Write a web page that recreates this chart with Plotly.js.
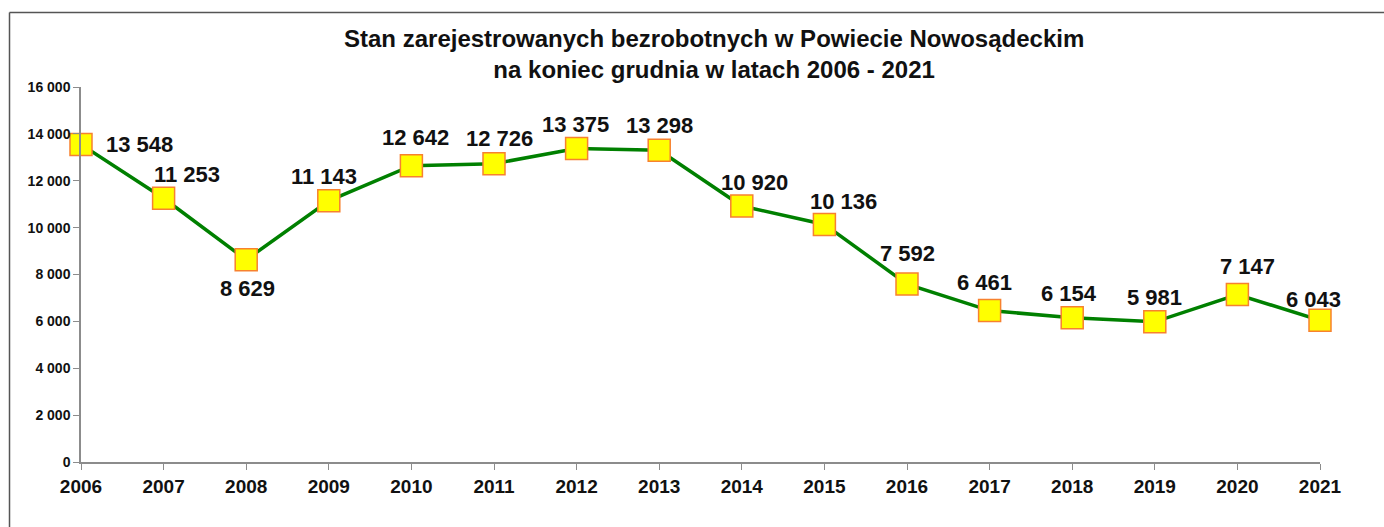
<!DOCTYPE html>
<html>
<head>
<meta charset="utf-8">
<script src="https://cdn.plot.ly/plotly-3.0.1.min.js"></script>
<style>
  html, body { margin: 0; padding: 0; background: #ffffff; }
  #chart { width: 1384px; height: 527px; }
</style>
</head>
<body>
<div id="chart"></div>
<script>
// ---- data ----
const years = ['2006','2007','2008','2009','2010','2011','2012','2013','2014','2015','2016','2017','2018','2019','2020','2021'];
const unemployed = [13548, 11253, 8629, 11143, 12642, 12726, 13375, 13298, 10920, 10136, 7592, 6461, 6154, 5981, 7147, 6043];
const yTicks = [0, 2000, 4000, 6000, 8000, 10000, 12000, 14000, 16000];
const titleText = 'Stan zarejestrowanych bezrobotnych w Powiecie Nowosądeckim<br>na koniec grudnia w latach 2006 - 2021';

// ---- label placement (pixel shifts, style only) ----
const labelShiftX = [58, 23, 1, -5, 4, 5, -1, 0, 13, 19, 0, -5, -3, 0, 10, -7];
const labelShiftY = [0, 24, -29, 24, 28, 25, 24, 25, 24, 23, 31, 28, 24, 24, 28, 21];

function fmt(v) {
  return String(v).replace(/\B(?=(\d{3})+(?!\d))/g, ' ');
}

const FONT = 'Liberation Sans, Arial, Helvetica, sans-serif';

const trace = {
  type: 'scatter',
  mode: 'lines+markers',
  x: years,
  y: unemployed,
  line: { color: '#008000', width: 3.5 },
  marker: {
    symbol: 'square',
    size: 22,
    color: '#ffff00',
    line: { color: '#f7812f', width: 1.5 }
  },
  hoverinfo: 'x+y',
  cliponaxis: false
};

// category axis: annotation x uses the category's serial index
const annotations = years.map((yr, i) => ({
  x: years.indexOf(yr),
  y: unemployed[i],
  xref: 'x',
  yref: 'y',
  text: fmt(unemployed[i]),
  showarrow: false,
  xanchor: 'center',
  yanchor: 'middle',
  xshift: labelShiftX[i],
  yshift: labelShiftY[i],
  font: { family: FONT, size: 22, color: '#111111', weight: 'bold' }
}));

const layout = {
  width: 1384,
  height: 527,
  paper_bgcolor: '#ffffff',
  plot_bgcolor: '#ffffff',
  separators: ', ',
  showlegend: false,
  margin: { l: 81, r: 64, t: 87, b: 65, pad: 0 },
  title: {
    text: titleText,
    font: { family: FONT, size: 24, color: '#111111', weight: 'bold' },
    x: 0.511,
    xref: 'paper',
    xanchor: 'center',
    y: 0.911,
    yref: 'container',
    yanchor: 'top'
  },
  xaxis: {
    type: 'category',
    range: [0, years.length - 1],
    showgrid: false,
    zeroline: false,
    showline: true,
    linecolor: '#8c8c8c',
    linewidth: 1.5,
    ticks: 'outside',
    ticklen: 6,
    tickwidth: 1.2,
    tickcolor: '#8c8c8c',
    tickfont: { family: FONT, size: 19, color: '#111111', weight: 'bold' },
    fixedrange: true
  },
  yaxis: {
    range: [0, 16000],
    tickvals: yTicks,
    ticktext: yTicks.map(fmt),
    showgrid: false,
    zeroline: false,
    showline: true,
    linecolor: '#8c8c8c',
    linewidth: 1.5,
    ticks: 'outside',
    ticklen: 6,
    tickwidth: 1.2,
    tickcolor: '#8c8c8c',
    tickfont: { family: FONT, size: 14, color: '#111111', weight: 'bold' },
    fixedrange: true
  },
  annotations: annotations,
  shapes: [
    {
      type: 'line', xref: 'paper', yref: 'paper',
      x0: -0.0577, x1: 1.2, y0: 1.199, y1: 1.199,
      line: { color: '#555555', width: 1.5 }
    },
    {
      type: 'line', xref: 'paper', yref: 'paper',
      x0: -0.0577, x1: -0.0577, y0: -0.3, y1: 1.199,
      line: { color: '#555555', width: 1.5 }
    }
  ]
};

Plotly.newPlot('chart', [trace], layout, { displayModeBar: false });
</script>
</body>
</html>
